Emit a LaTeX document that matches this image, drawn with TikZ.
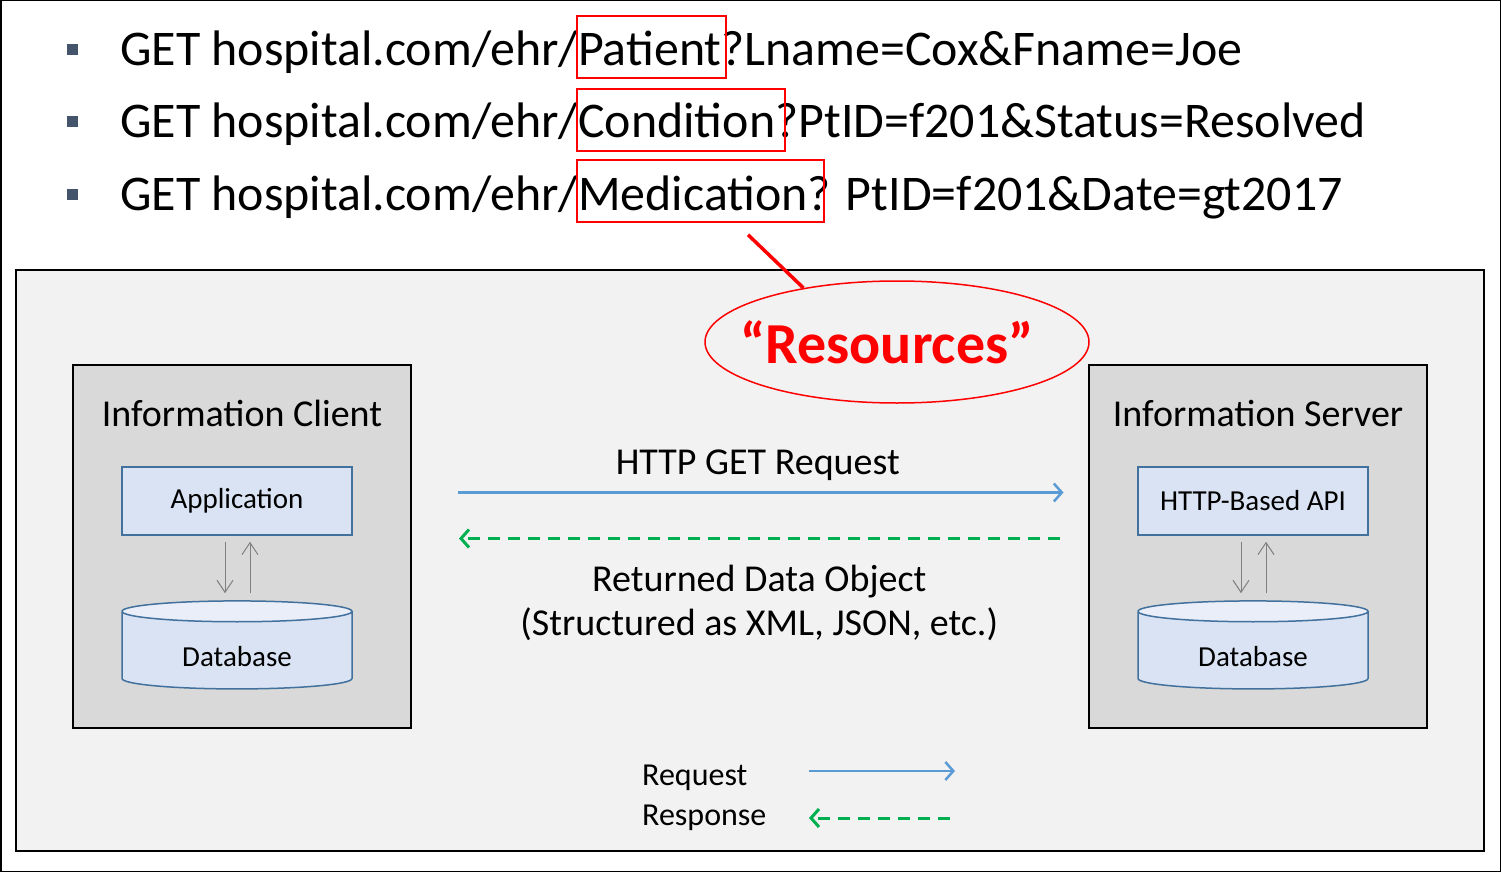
\documentclass[tikz,border=0pt]{standalone}
\usepackage{fontspec}
\setmainfont{Carlito}
\usetikzlibrary{shapes.geometric, arrows.meta}

\definecolor{reqblue}{HTML}{5B9BD5}
\definecolor{respgreen}{HTML}{00B050}
\definecolor{panelgray}{HTML}{F2F2F2}
\definecolor{boxgray}{HTML}{D9D9D9}
\definecolor{compfill}{HTML}{DAE3F3}
\definecolor{comptop}{HTML}{E9EEF8}
\definecolor{compline}{HTML}{41719C}
\definecolor{bulletgray}{HTML}{44546A}
\definecolor{resred}{HTML}{FF0000}
\definecolor{arrgray}{HTML}{7F7F7F}

\newcommand{\dbtext}{\raisebox{-16pt}[0pt][0pt]{Database}}

\tikzset{
  urltext/.style={anchor=base west, inner sep=0pt, font=\fontsize{49.9}{60}\selectfont},
  bulletsq/.style={rectangle, fill=bulletgray, minimum size=11pt, inner sep=0pt},
  resbox/.style={rectangle, draw=resred, line width=1.5pt, inner sep=0pt},
  sysbox/.style={rectangle, draw=black, line width=2pt, fill=boxgray,
    minimum width=338pt, minimum height=363pt},
  systitle/.style={anchor=base, inner sep=0pt, font=\fontsize{38}{45}\selectfont},
  compbox/.style={rectangle, draw=compline, line width=1.5pt, fill=compfill,
    minimum width=230pt, minimum height=68pt, font=\fontsize{29}{35}\selectfont},
  dbase/.style={cylinder, shape border rotate=90, aspect=0.19, draw=compline,
    line width=1.5pt, cylinder uses custom fill, cylinder body fill=compfill,
    cylinder end fill=comptop, minimum width=230pt, minimum height=88pt,
    inner sep=0pt, font=\fontsize{29}{35}\selectfont},
  innerarr/.style={draw=arrgray, line width=1pt, -{Straight Barb[length=12pt, width=16pt]}},
  reqarr/.style={draw=reqblue, line width=2.5pt, -{Straight Barb[length=8pt, width=18pt]}},
  resparr/.style={draw=respgreen, line width=3pt, dash pattern=on 12pt off 8pt,
    -{Straight Barb[length=8pt, width=18pt]}},
  flowtext/.style={inner sep=0pt, font=\fontsize{38}{44}\selectfont},
  legtext/.style={anchor=base west, inner sep=0pt, font=\fontsize{32}{38}\selectfont}
}

\begin{document}
\begin{tikzpicture}[x=1pt, y=-1pt]

	\useasboundingbox (0,0) rectangle (1501,872);
	\draw[line width=1.5pt] (0.75,0.75) rectangle (1500.25,871.25);

	% query lines
	\node (b1) [bulletsq] at (72,50) {};
	\node (b2) [bulletsq] at (72,122) {};
	\node (b3) [bulletsq] at (72,194) {};
	\node (url1) [urltext] at (120,66) {GET hospital.com/ehr/Patient?Lname=Cox\&Fname=Joe};
	\node (url2) [urltext] at (120,138) {GET hospital.com/ehr/Condition?PtID=f201\&Status=Resolved};
	\node (url3) [urltext] at (120,210) {GET hospital.com/ehr/Medication? PtID=f201\&Date=gt2017};

	\node (boxpat) [resbox, minimum width=149pt, minimum height=62pt] at (651.5,47) {};
	\node (boxcond) [resbox, minimum width=208pt, minimum height=62pt] at (681,120) {};
	\node (boxmed) [resbox, minimum width=247pt, minimum height=62pt] at (700.5,191) {};

	% panel
	\node (panel) [rectangle, draw, line width=2pt, fill=panelgray,
		minimum width=1468pt, minimum height=581pt] at (750,560.5) {};

	\node (res) [ellipse, draw=resred, line width=1.5pt, minimum width=384pt,
		minimum height=122pt, inner sep=0pt, text=resred,
		font=\bfseries\fontsize{58}{70}\selectfont] at (897,342)
		{\makebox[0pt]{“Resources”\hspace{20pt}}};
	\draw[resred, line width=3.5pt] ([xshift=47.5pt, yshift=-12pt]boxmed.south) -- (res.150);

	% client
	\node (client) [sysbox] at (242,546.5) {};
	\node (ctitle) [systitle] at (242,426) {Information Client};
	\node (app) [compbox] at (237,501) {Application};
	\node (cdb) [dbase] at (237,650.5) {\dbtext};
	\draw[innerarr] ([xshift=-12pt, yshift=-6pt]app.south) -- ([xshift=-12pt, yshift=7pt]cdb.north);
	\draw[innerarr] ([xshift=13pt, yshift=7pt]cdb.north) -- ([xshift=13pt, yshift=-6pt]app.south);

	% server
	\node (server) [sysbox] at (1257.5,546.5) {};
	\node (stitle) [systitle] at (1258,426) {Information Server};
	\node (api) [compbox] at (1253,501) {HTTP-Based API};
	\node (sdb) [dbase] at (1253,650.5) {\dbtext};
	\draw[innerarr] ([xshift=-12pt, yshift=-6pt]api.south) -- ([xshift=-12pt, yshift=7pt]sdb.north);
	\draw[innerarr] ([xshift=13pt, yshift=7pt]sdb.north) -- ([xshift=13pt, yshift=-6pt]api.south);

	% request / response
	\draw[reqarr] ([xshift=46pt, yshift=54pt]client.east) -- ([xshift=-24pt, yshift=54pt]server.west)
		node (reqlbl) [flowtext, midway, anchor=base, yshift=18pt, xshift=-3pt] {HTTP GET Request};
	\draw[resparr] ([xshift=-28pt, yshift=8pt]server.west) -- ([xshift=47pt, yshift=8pt]client.east)
		node (resplbl) [flowtext, midway, anchor=north, yshift=-25pt, align=center]
		{Returned Data Object\\(Structured as XML, JSON, etc.)};

	% legend
	\node (legreq) [legtext] at (642,785) {Request};
	\node (legresp) [legtext] at (642,825) {Response};
	\coordinate (lreqa) at (809,771);
	\coordinate (lreqb) at (955,771);
	\coordinate (lrespa) at (950,818);
	\coordinate (lrespb) at (809,818);
	\draw[reqarr] (lreqa) -- (lreqb);
	\draw[resparr] (lrespa) -- (lrespb);

\end{tikzpicture}
\end{document}
